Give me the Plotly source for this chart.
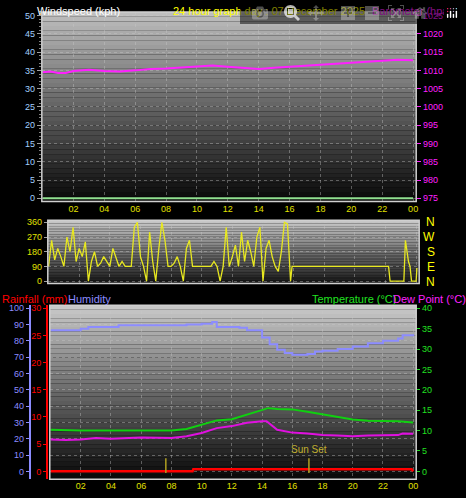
import plotly.graph_objects as go

# ---------- data ----------
baro_t = [0, 0.5, 1, 1.5, 2, 3, 4, 5, 6, 7, 8, 9, 10, 11, 12, 13, 14, 15, 16, 17, 18, 19, 20, 21, 22, 23, 24]
baro_v = [1009.5, 1009.7, 1009.3, 1009.3, 1009.8, 1010.2, 1009.8, 1009.7, 1010.0, 1010.4, 1010.5, 1010.8, 1011.2,
          1011.3, 1011.0, 1010.8, 1010.4, 1010.7, 1011.0, 1011.1, 1011.4, 1011.7, 1012.0, 1012.4, 1012.6, 1012.9, 1012.8]
wind_t = [0, 24]
wind_v = [0, 0]

dir_t = [0.0, 0.2, 0.4, 0.6, 0.8, 1.0, 1.2, 1.4, 1.6, 1.8, 2.0, 2.2, 2.4, 2.6, 2.8, 3.0, 3.2, 3.4, 3.6, 3.8,
         4.0, 4.2, 4.4, 4.6, 4.8, 5.0, 5.2, 5.4, 5.6, 5.8, 6.0, 6.2, 6.4, 6.6, 6.8, 7.0, 7.2, 7.4, 7.6, 7.8,
         8.0, 8.2, 8.4, 8.6, 8.8, 9.0, 9.2, 9.4, 9.6, 9.8, 10.0, 10.2, 10.4, 10.6, 10.8, 11.0, 11.2, 11.4, 11.6, 11.8,
         12.0, 12.2, 12.4, 12.6, 12.8, 13.0, 13.2, 13.4, 13.6, 13.8, 14.0, 14.2, 14.4, 14.6, 14.8, 15.0, 15.2, 15.4, 15.6, 15.8,
         15.9, 22.2, 22.3, 23.2, 23.3, 23.4, 23.5, 23.6, 23.7, 24.0, 24.05]
dir_v = [90, 250, 130, 200, 150, 90, 270, 180, 330, 120, 200, 150, 240, 0, 120, 180, 90, 110, 150, 120,
         90, 200, 150, 90, 120, 90, 90, 90, 330, 360, 150, 90, 0, 300, 120, 0, 200, 360, 250, 90,
         90, 110, 150, 90, 0, 200, 250, 90, 90, 90, 90, 90, 90, 90, 120, 90, 0, 90, 330, 90,
         150, 220, 90, 300, 120, 250, 180, 90, 270, 330, 0, 200, 250, 150, 90, 60, 180, 360, 350, 0,
         90, 90, 0, 0, 250, 180, 120, 90, 0, 0, 80]

hum_t = [0, 1, 2, 2.5, 4, 4.5, 6, 8, 9, 10, 10.7, 11, 12, 12.5, 13, 14, 14.5, 15, 15.5, 16, 17, 17.5, 18, 19, 20, 21, 22, 23, 23.3, 24]
hum_v = [86.5, 86.5, 87.5, 88.5, 88.5, 89.5, 89.5, 89.5, 90, 90.5, 91.5, 88.5, 88.5, 88, 86.5, 82, 78, 74.5, 72.5, 71.5, 72, 73.5, 74, 75, 76.5, 78.5, 80, 81.5, 83.5, 84]
temp_t = [0, 2, 4, 8, 9, 10, 11, 12, 13, 14, 14.4, 15, 16, 17, 18, 19, 20, 21, 22, 23, 24]
temp_v = [10.2, 10.0, 10.0, 10.0, 10.4, 11.5, 12.5, 12.8, 14.0, 15.2, 15.5, 15.3, 15.2, 14.6, 14.0, 13.3, 12.7, 12.4, 12.3, 12.3, 12.0]
dew_t = [0, 1, 2, 3, 4, 6, 8, 9, 10, 11, 12, 13, 14, 14.3, 15, 16, 17, 18, 19, 20, 21, 22, 23, 23.3, 24]
dew_v = [7.8, 7.7, 7.8, 8.2, 8.0, 8.3, 8.2, 8.6, 9.4, 10.6, 11.1, 11.9, 12.3, 12.3, 10.2, 9.5, 9.3, 8.9, 8.8, 8.6, 8.8, 8.8, 8.9, 9.3, 9.2]
rain_t = [0, 9.4, 9.45, 23.9, 24]
rain_v = [0, 0, 0.4, 0.4, 0]
sunrise_h = 7.63
sunset_h = 17.1
hour_ticks = [2, 4, 6, 8, 10, 12, 14, 16, 18, 20, 22, 24]
hour_labels = ["02", "04", "06", "08", "10", "12", "14", "16", "18", "20", "22", "00"]

FONT = "Liberation Sans"
fig = go.Figure()

fig.add_trace(go.Scatter(x=wind_t, y=wind_v, mode="lines", line=dict(color="#90e090", width=2), xaxis="x", yaxis="y"))
fig.add_trace(go.Scatter(x=baro_t, y=baro_v, mode="lines", line=dict(color="#ff20ff", width=2), xaxis="x", yaxis="y2"))
fig.add_trace(go.Scatter(x=dir_t, y=dir_v, mode="lines", line=dict(color="#e8e820", width=1.3), xaxis="x2", yaxis="y3"))
fig.add_trace(go.Scatter(x=hum_t, y=hum_v, mode="lines", line=dict(color="#8c8cff", width=2, shape="hv"), xaxis="x3", yaxis="y4"))
fig.add_trace(go.Scatter(x=temp_t, y=temp_v, mode="lines", line=dict(color="#10d010", width=2), xaxis="x3", yaxis="y6"))
fig.add_trace(go.Scatter(x=dew_t, y=dew_v, mode="lines", line=dict(color="#e010e0", width=2), xaxis="x3", yaxis="y6"))
fig.add_trace(go.Scatter(x=rain_t, y=rain_v, mode="lines", line=dict(color="#ff0000", width=2.5), xaxis="x3", yaxis="y5"))

grid = dict(showgrid=True, gridcolor="rgba(200,200,200,0.4)", griddash="dot", gridwidth=1, zeroline=False)
tf = dict(family=FONT, size=9)

shapes = []
def gradient(xref, yref, top, bottom, n=40):
    for i in range(n):
        f = i / (n - 1)
        c = [int(top[k] + (bottom[k] - top[k]) * f) for k in range(3)]
        shapes.append(dict(type="rect", xref=xref + " domain", yref=yref + " domain",
                           x0=0, x1=1, y0=1 - (i + 1) / n, y1=1 - i / n,
                           fillcolor="rgb(%d,%d,%d)" % tuple(c), line=dict(width=0), layer="below"))
gradient("x", "y", (190, 190, 190), (10, 10, 10))
gradient("x2", "y3", (200, 200, 200), (25, 25, 25))
gradient("x3", "y4", (200, 200, 200), (10, 10, 10))
for xr, yr in [("x", "y"), ("x2", "y3"), ("x3", "y4")]:
    shapes.append(dict(type="rect", xref=xr + " domain", yref=yr + " domain", x0=0, x1=1, y0=0, y1=1,
                       line=dict(color="#d0d0d0", width=1.5), layer="above"))
for h in [sunrise_h, sunset_h]:
    shapes.append(dict(type="line", xref="x3", yref="y4", x0=h, x1=h, y0=-1, y1=8,
                       line=dict(color="#b0a020", width=1.5)))

ann = [
    dict(text="Windspeed (kph)", x=35, y=498, font=dict(color="white", size=11, family=FONT)),
    dict(text="24 hour graph day : 07 December 2025", x=172, y=498, font=dict(color="#ffff00", size=11, family=FONT)),
    dict(text="Barometer (hpa)", x=372, y=498, font=dict(color="#ff20ff", size=11, family=FONT)),
    dict(text="Rainfall (mm)", x=0, y=206, font=dict(color="#ff0000", size=11, family=FONT)),
    dict(text="Humidity", x=66, y=206, font=dict(color="#8c8cff", size=11, family=FONT)),
    dict(text="Temperature (°C)", x=311, y=206, font=dict(color="#20e020", size=11, family=FONT)),
    dict(text="Dew Point (°C)", x=393, y=206, font=dict(color="#ff20ff", size=11, family=FONT)),
]
annotations = []
for a in ann:
    annotations.append(dict(text=a["text"], x=a["x"] / 466, y=a["y"] / 498, xref="paper", yref="paper",
                            xanchor="left", yanchor="top", showarrow=False, font=a["font"]))
for i, l in enumerate(["N", "W", "S", "E", "N"]):
    annotations.append(dict(text=l, x=439 / 466, y=1 - (222 + i * 15) / 498, xref="paper", yref="paper",
                            showarrow=False, font=dict(color="#ffff00", size=12, family=FONT)))
annotations.append(dict(text="Sun Set", x=sunset_h, y=9, xref="x3", yref="y4", yanchor="bottom", showarrow=False,
                        font=dict(color="#c0b030", size=10, family=FONT)))

fig.update_layout(
    width=466, height=498, margin=dict(l=0, r=0, t=0, b=0),
    paper_bgcolor="black", plot_bgcolor="black", showlegend=False,
    shapes=shapes, annotations=annotations,
    xaxis=dict(domain=[42 / 466, 418 / 466], range=[-0.05, 24.2], tickvals=hour_ticks, ticktext=hour_labels,
               tickfont=dict(color="#e0e000", **tf), ticks="", **grid),
    yaxis=dict(range=[-0.9, 51], tickvals=list(range(0, 51, 5)), tickfont=dict(color="#a0d0ff", **tf),
               ticks="outside", ticklen=4, tickcolor="#a0a0a0", domain=[1 - 201 / 498, 1 - 9 / 498], **grid,
               minor=dict(ticks="outside", ticklen=2, tickcolor="#808080", dtick=1)),
    yaxis2=dict(range=[974.1, 1026], overlaying="y", side="right", tickvals=list(range(975, 1026, 5)),
                tickfont=dict(color="#ff20ff", **tf), ticks="outside", ticklen=4, tickcolor="#ff20ff", showgrid=False,
                zeroline=False),
    xaxis2=dict(domain=[48 / 466, 421 / 466], range=[-0.05, 24.2], anchor="y3", tickvals=hour_ticks,
                showticklabels=False, ticks="", **grid),
    yaxis3=dict(domain=[1 - 284 / 498, 1 - 220 / 498], range=[-15, 372], anchor="x2", tickvals=[0, 90, 180, 270, 360],
                tickfont=dict(color="#e0e000", **tf), ticks="outside", ticklen=3, tickcolor="#a0a0a0", **grid),
    xaxis3=dict(domain=[50 / 466, 418 / 466], range=[-0.05, 24.2], anchor="y4", tickvals=hour_ticks, ticktext=hour_labels,
                tickfont=dict(color="#e0e000", **tf), ticks="", **grid),
    yaxis4=dict(domain=[16 / 498, 1 - 306 / 498], range=[-4.8, 101.8], anchor="free", position=30 / 466,
                tickvals=list(range(0, 101, 10)), tickfont=dict(color="#8c8cff", **tf), ticks="outside", ticklen=3,
                tickcolor="#8c8cff", showline=True, linecolor="#8c8cff", linewidth=2, **grid),
    yaxis5=dict(range=[-1.44, 30.54], overlaying="y4", anchor="free", position=47 / 466, side="left",
                tickvals=list(range(0, 31, 5)), tickfont=dict(color="#ff0000", **tf), ticks="outside", ticklen=3,
                tickcolor="#ff0000", showline=True, linecolor="#ff0000", linewidth=1.5, showgrid=False, zeroline=False),
    yaxis6=dict(range=[-1.92, 40.72], overlaying="y4", anchor="x3", side="right", tickvals=list(range(0, 41, 5)),
                tickfont=dict(color="#20e020", **tf), ticks="outside", ticklen=3, tickcolor="#20e020",
                showgrid=False, zeroline=False),
)
fig.write_html("out.html", post_script="document.body.style.margin='0';document.body.style.background='black';")
